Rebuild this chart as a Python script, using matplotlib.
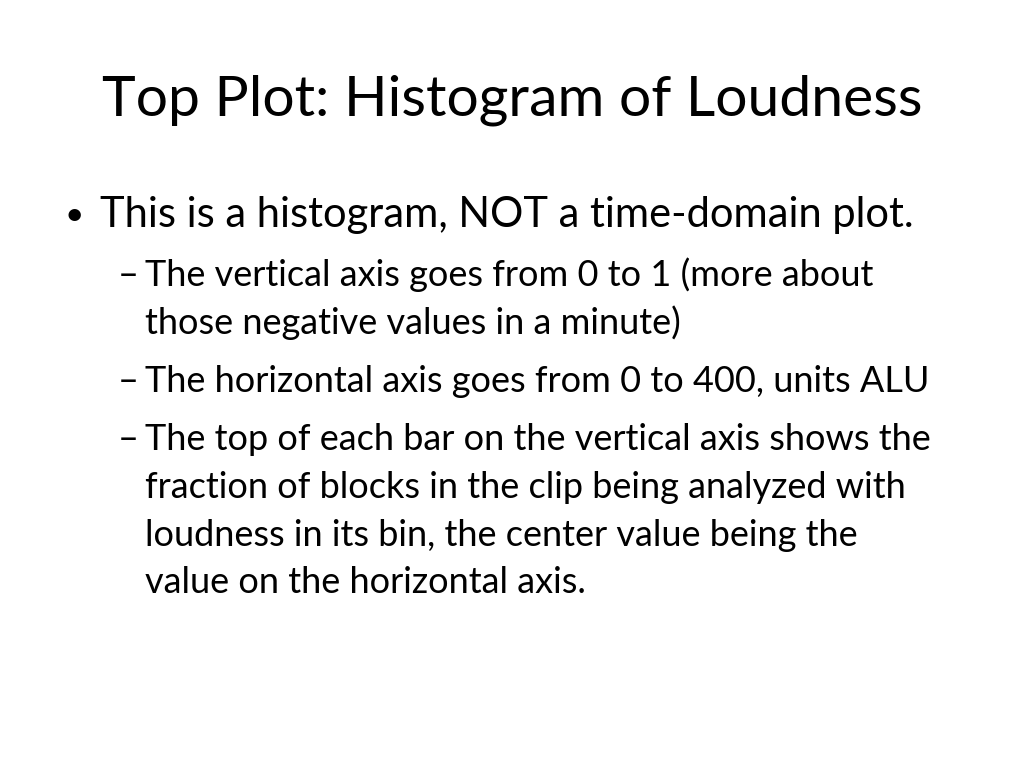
import matplotlib.pyplot as plt

# slide text content
title = "Top Plot: Histogram of Loudness"
main_bullet = "This is a histogram, NOT a time-domain plot."
sub_bullets = [
    ["The vertical axis goes from 0 to 1 (more about",
     "those negative values in a minute)"],
    ["The horizontal axis goes from 0 to 400, units ALU"],
    ["The top of each bar on the vertical axis shows the",
     "fraction of blocks in the clip being analyzed with",
     "loudness in its bin, the center value being the",
     "value on the horizontal axis."],
]

W, H = 1024, 768
fig = plt.figure(figsize=(W / 100, H / 100), dpi=100)
fig.patch.set_facecolor('white')
font = ['Lato', 'DejaVu Sans']
color = '#000000'


def put(x, y, s, size, ha='left'):
    # x, y in pixels from top-left, y is the baseline
    fig.text(x / W, 1 - y / H, s, fontsize=size, ha=ha, va='baseline',
             family=font, color=color)


put(512, 116, title, 41, ha='center')

put(64, 225, "•", 24)
put(100, 227, main_bullet, 30)

y = 286
for group in sub_bullets:
    put(118, y, "–", 26)
    for line in group:
        put(145, y, line, 26)
        y += 47.5
    y += 11

fig.savefig('out.png', dpi=100)
